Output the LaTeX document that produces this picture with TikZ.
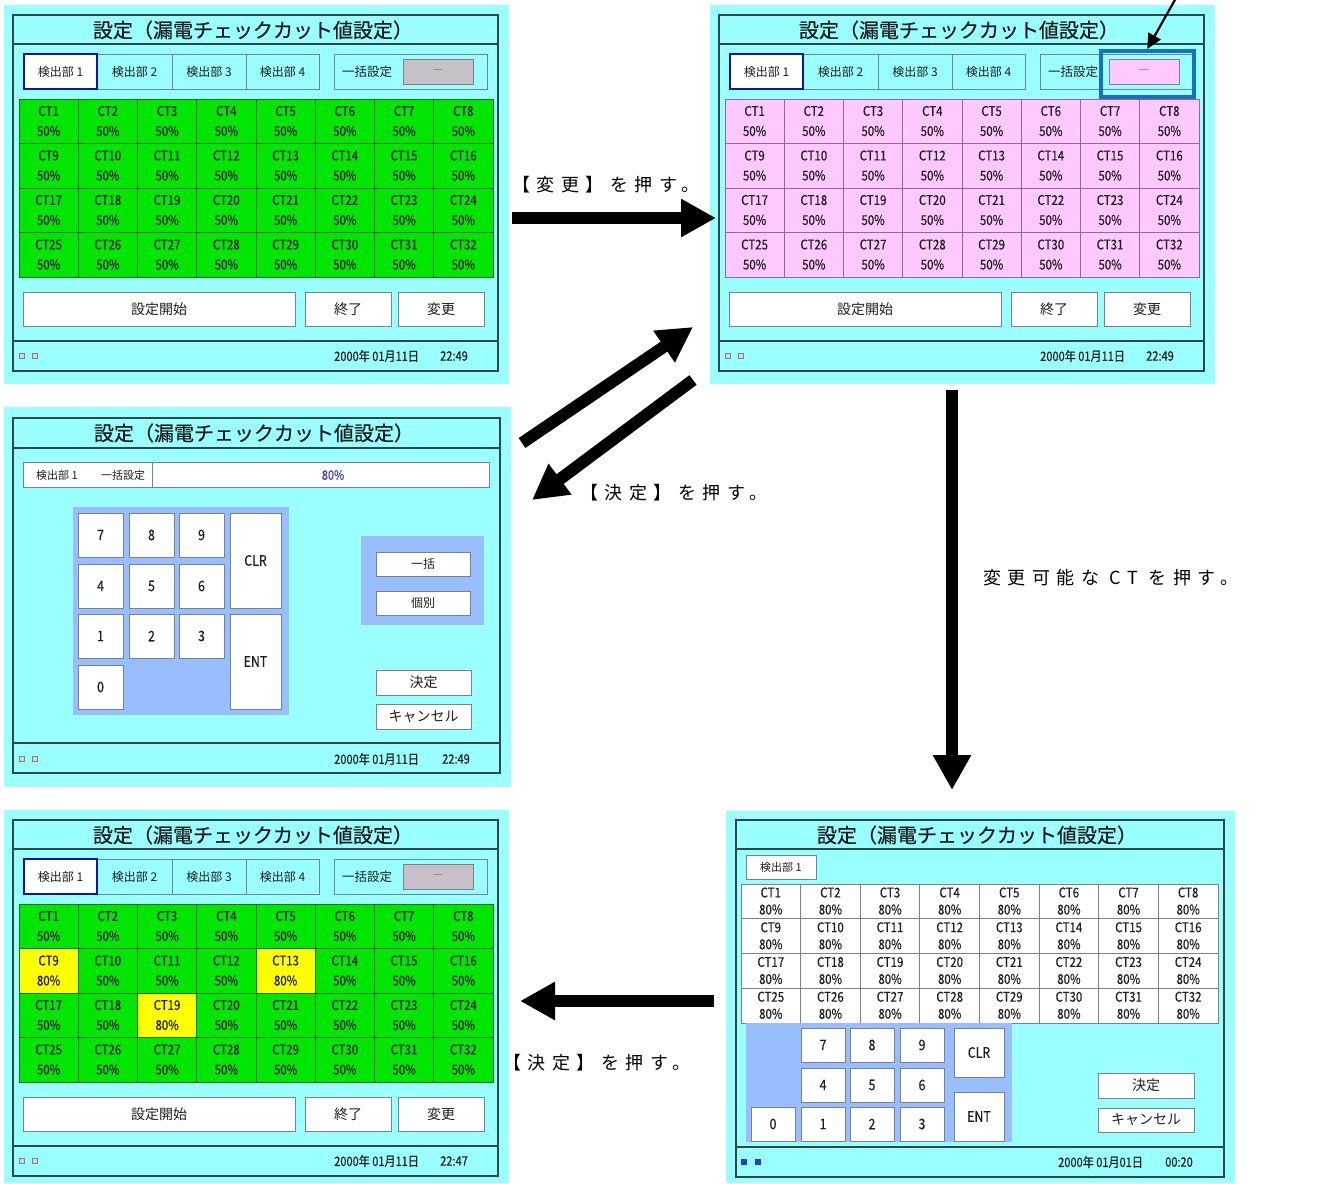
\documentclass[tikz,border=0pt]{standalone}
\usepackage{fontspec}
\usetikzlibrary{arrows.meta}
\newfontfamily\jp{Noto Sans CJK JP}
\newfontfamily\jpt[FakeBold=0.6]{Noto Sans CJK JP}
\newfontfamily\jpn[FakeStretch=0.85,FakeBold=0.4]{Noto Sans CJK JP}
\newfontfamily\jpl[LetterSpace=36]{Noto Sans CJK JP}
\definecolor{scr}{RGB}{153,255,255}
\definecolor{frm}{RGB}{50,70,70}
\definecolor{grn}{RGB}{0,230,0}
\definecolor{grnl}{RGB}{20,110,20}
\definecolor{pnk}{RGB}{255,200,255}
\definecolor{pnkl}{RGB}{140,110,140}
\definecolor{gbox}{RGB}{200,192,200}
\definecolor{kpad}{RGB}{153,190,255}
\definecolor{tabb}{RGB}{10,20,190}
\definecolor{hil}{RGB}{20,115,190}
\definecolor{btnb}{RGB}{120,130,140}
\definecolor{valc}{RGB}{60,60,200}
\definecolor{txt}{RGB}{30,30,30}
\definecolor{ylw}{RGB}{255,255,0}
\definecolor{sqf}{RGB}{215,215,215}
\definecolor{sqb}{RGB}{40,60,210}
\newcommand\mkbox[7]{\node[#1, anchor=north west, minimum width={(#5)-(#3)}, minimum height={(#6)-(#4)}] (#2) at (#3,#4) {#7};}
\newcommand\stdscreen[8]{%
\begin{scope}[shift={(#2,#3)}]
\draw[frame] (13,15) rectangle (498,371);
\draw[frame] (13,44) -- (498,44);
\draw[frame] (13,341) -- (498,341);
\node[ttl] (#1-title) at (253,30) {設定（漏電チェックカット値設定）};
\mkbox{tab}{#1-tab2}{97}{54}{172}{89}{検出部 2}
\mkbox{tab}{#1-tab3}{172}{54}{246}{89}{検出部 3}
\mkbox{tab}{#1-tab4}{246}{54}{319}{89}{検出部 4}
\mkbox{tab, fill=white, draw=tabb, line width=2}{#1-tab1}{24}{54}{97}{89}{検出部 1}
\mkbox{tab}{#1-all}{334}{54}{487}{89}{}
\node[font=\jp\fontsize{12.5}{12.5}\selectfont, text=txt, inner sep=0pt] (#1-allt) at (367,72) {一括設定};
\mkbox{tab, fill=#6, draw=gray}{#1-allv}{403}{59}{473}{84}{\textcolor{gray}{—}}
\foreach \r in {0,1,2,3}{
 \foreach \c in {0,...,7}{
  \pgfmathtruncatemacro\k{\r*8+\c+1}
  \pgfmathsetmacro\cx{19+\c*59.25}
  \pgfmathsetmacro\cy{99+\r*44.5}
  \node[cell, fill=#4, draw=#5, anchor=north west, minimum width=59.25, minimum height=44.5] (#1-c\k) at (\cx,\cy) {};
  \node[ctt] (#1-n\k) at (\cx+29.6,\cy+12) {CT\k};
  \node[ctt] (#1-v\k) at (\cx+29.6,\cy+32) {#8};
 }}
\mkbox{btn}{#1-start}{23}{292}{295}{326}{設定開始}
\mkbox{btn}{#1-end}{305}{292}{391}{326}{終了}
\mkbox{btn}{#1-chg}{398}{292}{484}{326}{変更}
\node[sq] (#1-s1) at (22,356) {};
\node[sq] (#1-s2) at (35,356) {};
\node[foot] (#1-date) at (334,356) {2000年 01月11日};
\node[foot] (#1-time) at (440,356) {#7};
\end{scope}}
\newcommand\ycell[4]{%
\pgfmathsetmacro\cx{19+#2*59.25}
\pgfmathsetmacro\cy{805+99+#3*44.5}
\node[cell, fill=ylw, draw=grnl, anchor=north west, minimum width=59.25, minimum height=44.5] (#1-y#4) at (\cx,\cy) {};
\node[ctt] (#1-yn#4) at (\cx+29.6,\cy+12) {CT#4};
\node[ctt] (#1-yv#4) at (\cx+29.6,\cy+32) {80\%};}
\begin{document}
\begin{tikzpicture}[x=1pt,y=-1pt,
 frame/.style={draw=frm, line width=1.4},
 bx/.style={draw=btnb, line width=0.8, inner sep=0pt, outer sep=0pt},
 btn/.style={bx, fill=white, font=\jp\fontsize{14}{14}\selectfont, text=txt},
 key/.style={bx, fill=white, font=\jpn\fontsize{14.5}{14.5}\selectfont, text=txt},
 tab/.style={bx, fill=scr, font=\jp\fontsize{12}{12}\selectfont, text=txt},
 cell/.style={inner sep=0pt, outer sep=0pt, line width=0.8},
 ctt/.style={font=\jpn\fontsize{13.5}{13.5}\selectfont, text=txt, inner sep=0pt},
 ttl/.style={font=\jpt\fontsize{20}{20}\selectfont, text=txt, inner sep=0pt},
 foot/.style={font=\jpn\fontsize{13}{13}\selectfont, text=txt, inner sep=0pt, anchor=west},
 sq/.style={draw=gray, fill=sqf, line width=0.6, minimum size=5, inner sep=0pt},
 lbl/.style={font=\jpl\fontsize{18}{18}\selectfont, text=black, inner sep=0pt},
 bigarrow/.style={line width=12pt, -{Triangle[length=35pt,width=36pt]}}]
\useasboundingbox (0,0) rectangle (1319,1183);
\fill[white] (0,0) rectangle (1319,1183);
% backgrounds
\fill[scr] (4,5) rectangle (509,384);
\fill[scr] (710,5) rectangle (1215,384);
\fill[scr] (4,407) rectangle (511,787);
\fill[scr] (4,810) rectangle (509,1183);
\fill[scr] (726,811) rectangle (1235,1183);
% panels 1, 2, 4
\stdscreen{p1}{0}{0}{grn}{grnl}{gbox}{22:49}{50\%}
\stdscreen{p2}{706}{0}{pnk}{pnkl}{pnk}{22:49}{50\%}
\stdscreen{p4}{0}{805}{grn}{grnl}{gbox}{22:47}{50\%}
\ycell{p4}{0}{1}{9}
\ycell{p4}{4}{1}{13}
\ycell{p4}{2}{2}{19}
% highlight in panel 2
\node[draw=hil, line width=3.5, anchor=north west, minimum width=93, minimum height=46, inner sep=0pt] (p2-hl) at (1099,49) {};
\coordinate (p2-ptr) at (1176,-2);
\draw[line width=2.2, -{Triangle[length=15pt,width=14pt]}] (p2-ptr) -- (p2-hl.north);
% panel 3
\draw[frame] (13,418) rectangle (500,773);
\draw[frame] (13,448) -- (500,448);
\draw[frame] (13,743) -- (500,743);
\node[ttl] (p3-title) at (254,433) {設定（漏電チェックカット値設定）};
\mkbox{bx, fill=white}{p3-info}{23}{462}{489}{487}{}
\draw[draw=btnb, line width=0.8] (152,462) -- (152,487);
\node[font=\jp\fontsize{11}{11}\selectfont, text=txt, inner sep=0pt] (p3-inf1) at (57,475) {検出部 1};
\node[font=\jp\fontsize{11}{11}\selectfont, text=txt, inner sep=0pt] (p3-inf2) at (123,475) {一括設定};
\node[font=\jpn\fontsize{13}{13}\selectfont, text=valc, inner sep=0pt] (p3-val) at (333,475) {80\%};
\fill[kpad] (73,507) rectangle (289,715);
\foreach \t/\x/\y in {7/78/513, 8/129/513, 9/179/513, 4/78/564, 5/129/564, 6/179/564, 1/78/614, 2/129/614, 3/179/614, 0/78/665}
 \node[key, anchor=north west, minimum width=45, minimum height=44] (p3-k\t) at (\x,\y) {\t};
\mkbox{key}{p3-clr}{230}{513}{281}{608}{CLR}
\mkbox{key}{p3-ent}{230}{614}{281}{709}{ENT}
\fill[kpad] (361,536) rectangle (484,625);
\mkbox{btn, font=\jp\fontsize{12}{12}\selectfont}{p3-ikk}{376}{552}{470}{576}{一括}
\mkbox{btn, font=\jp\fontsize{12}{12}\selectfont}{p3-kob}{376}{591}{470}{615}{個別}
\mkbox{btn}{p3-ok}{376}{670}{471}{695}{決定}
\mkbox{btn}{p3-cn}{376}{704}{471}{729}{キャンセル}
\node[sq] (p3-s1) at (22,759) {};
\node[sq] (p3-s2) at (35,759) {};
\node[foot] (p3-date) at (334,759) {2000年 01月11日};
\node[foot] (p3-time) at (442,759) {22:49};
% panel 5
\draw[frame] (736,820) rectangle (1224,1177);
\draw[frame] (736,849) -- (1224,849);
\draw[frame] (736,1147) -- (1224,1147);
\node[ttl] (p5-title) at (977,835) {設定（漏電チェックカット値設定）};
\mkbox{bx, fill=white, font=\jp\fontsize{11}{11}\selectfont, text=txt}{p5-tab}{746}{855}{816}{879}{検出部 1}
\foreach \r in {0,1,2,3}{
 \foreach \c in {0,...,7}{
  \pgfmathtruncatemacro\k{\r*8+\c+1}
  \pgfmathsetmacro\cx{741+\c*59.625}
  \pgfmathsetmacro\cy{884+\r*34.75}
  \node[cell, fill=white, draw=gray, anchor=north west, minimum width=59.625, minimum height=34.75] (p5-c\k) at (\cx,\cy) {};
  \node[ctt] (p5-n\k) at (\cx+29.8,\cy+8.5) {CT\k};
  \node[ctt] (p5-v\k) at (\cx+29.8,\cy+25.5) {80\%};
 }}
\fill[kpad] (746,1023) rectangle (1012,1142);
\foreach \t/\x/\y in {7/801/1028, 8/850/1028, 9/900/1028, 4/801/1068, 5/850/1068, 6/900/1068, 1/801/1107, 2/850/1107, 3/900/1107, 0/751/1107}
 \node[key, anchor=north west, minimum width=44, minimum height=34] (p5-k\t) at (\x,\y) {\t};
\mkbox{key}{p5-clr}{954}{1028}{1004}{1077}{CLR}
\mkbox{key}{p5-ent}{954}{1092}{1004}{1141}{ENT}
\mkbox{btn}{p5-ok}{1098}{1073}{1194}{1098}{決定}
\mkbox{btn}{p5-cn}{1098}{1108}{1194}{1132}{キャンセル}
\node[sq, fill=sqb, draw=sqb] (p5-s1) at (744,1162) {};
\node[sq, fill=sqb, draw=sqb] (p5-s2) at (758,1162) {};
\node[foot] (p5-date) at (1058,1162) {2000年 01月01日};
\node[foot] (p5-time) at (1165,1162) {00:20};
% big arrows
\coordinate (a1s) at (512,218);
\coordinate (a1e) at (716,218);
\coordinate (a2s) at (522,443);
\coordinate (a2e) at (693,327);
\coordinate (a3s) at (693,380);
\coordinate (a3e) at (532,500);
\coordinate (a4s) at (952,390);
\coordinate (a4e) at (952,790);
\coordinate (a5s) at (714,1001);
\coordinate (a5e) at (520,1001);
\draw[bigarrow] (a1s) -- (a1e);
\draw[bigarrow] (a2s) -- (a2e);
\draw[bigarrow] (a3s) -- (a3e);
\draw[bigarrow] (a4s) -- (a4e);
\draw[bigarrow] (a5s) -- (a5e);
\node[lbl, anchor=west] (l1) at (512,185) {【変更】を押す。};
\node[lbl, anchor=west] (l2) at (580,493) {【決定】を押す。};
\node[lbl, anchor=west] (l3) at (983,578) {変更可能な CT を押す。};
\node[lbl, anchor=west] (l4) at (503,1063) {【決定】を押す。};
\end{tikzpicture}
\end{document}
